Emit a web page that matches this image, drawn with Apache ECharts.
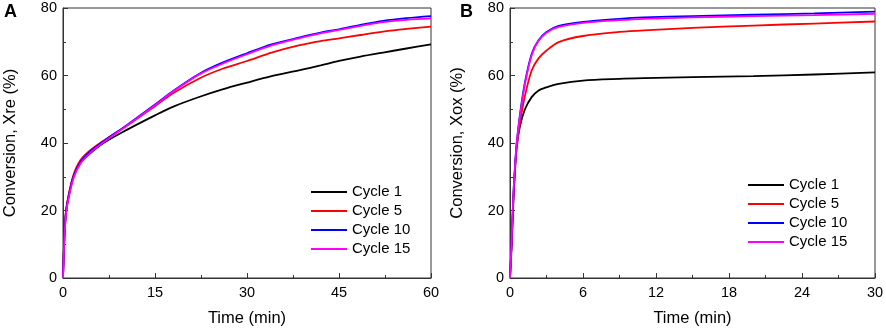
<!DOCTYPE html>
<html>
<head>
<meta charset="utf-8">
<script src="https://cdn.jsdelivr.net/npm/echarts@6/dist/echarts.min.js"></script>
<style>
html,body{margin:0;padding:0;background:#fff;}
#chart{width:886px;height:330px;}
</style>
</head>
<body>
<div id="chart"></div>
<script>
// Panel A: reduction conversion Xre (%) vs time (min)
var timeA = [0, 0.15, 0.3, 0.5, 0.9, 1.7, 2.8, 4.4, 6.6, 10.4, 15, 18, 22.3, 26, 30, 34, 38.6, 42, 45, 48.5, 52.2, 56, 60];
var a1  = [0, 9, 15, 20, 24, 30, 34, 36.9, 40, 43.9, 48.2, 50.8, 53.7, 55.9, 57.9, 59.8, 61.6, 63.0, 64.3, 65.6, 66.8, 68.0, 69.2];
var a5  = [0, 9, 15, 20, 24.5, 30.5, 34.8, 37.8, 40.7, 45.1, 50.9, 54.8, 59.2, 62.0, 64.3, 66.8, 69.0, 70.2, 71.0, 72.0, 73.0, 73.8, 74.5];
var a10 = [0, 8.5, 14.5, 19.5, 24, 30, 34.2, 37.4, 40.5, 45.3, 51.4, 55.5, 60.6, 63.8, 66.6, 69.2, 71.3, 72.7, 73.7, 75.0, 76.2, 77.0, 77.6];
var a15 = [0, 8, 14, 19, 23.5, 29.5, 33.8, 37.0, 40.2, 45.1, 51.2, 55.3, 60.4, 63.5, 66.3, 68.9, 71.1, 72.5, 73.5, 74.7, 75.8, 76.5, 76.9];

// Panel B: oxidation conversion Xox (%) vs time (min)
var timeB = [0, 0.14, 0.27, 0.41, 0.55, 0.82, 1.23, 1.78, 2.33, 3, 4, 6, 9, 11, 15, 20, 25, 30];
var b1  = [0, 10, 22, 32, 39, 45, 50, 53.6, 55.5, 56.5, 57.5, 58.5, 59.0, 59.2, 59.5, 59.8, 60.3, 60.9];
var b5  = [0, 11, 23, 32, 38.5, 46, 54, 61.5, 65, 67.4, 69.9, 71.7, 72.9, 73.4, 74.1, 74.8, 75.4, 76.0];
var b10 = [0, 11.5, 24, 33, 40, 48.5, 58, 66.4, 70.4, 72.9, 74.7, 75.9, 76.8, 77.2, 77.6, 78.0, 78.4, 78.9];
var b15 = [0, 11.5, 24, 33, 40, 48, 57.5, 66, 70.2, 72.7, 74.4, 75.6, 76.4, 76.8, 77.2, 77.6, 77.9, 78.3];

var names = ['Cycle 1', 'Cycle 5', 'Cycle 10', 'Cycle 15'];
var colors = ['#000000', '#ff0000', '#0000ff', '#ff00ff'];
var ticksAX = [0, 15, 30, 45, 60];
var ticksBX = [0, 6, 12, 18, 24, 30];
var ticksY = [0, 20, 40, 60, 80];

function pairs(t, v) { return t.map(function (x, i) { return [x, v[i]]; }); }

var FONT = 'Liberation Sans, Arial, sans-serif';
var axisCol = '#333';

function xAxisDef(gi, ticks) {
  return {
    type: 'value', gridIndex: gi,
    min: ticks[0], max: ticks[ticks.length - 1], interval: ticks[1] - ticks[0],
    name: 'Time (min)', nameLocation: 'middle', nameGap: 32,
    nameTextStyle: { fontFamily: FONT, fontSize: 16.5, color: '#000' },
    axisLine: { show: true, lineStyle: { color: axisCol, width: 1 } },
    axisTick: { show: true, inside: true, length: 5, lineStyle: { color: axisCol } },
    minorTick: { show: true, splitNumber: 2, length: 3, lineStyle: { color: axisCol } },
    splitLine: { show: false },
    axisLabel: { fontFamily: FONT, fontSize: 14.5, color: '#000', margin: 7 }
  };
}
function yAxisDef(gi, name) {
  return {
    type: 'value', gridIndex: gi,
    min: ticksY[0], max: ticksY[ticksY.length - 1], interval: ticksY[1] - ticksY[0],
    name: name, nameLocation: 'middle', nameGap: 44,
    nameTextStyle: { fontFamily: FONT, fontSize: 16.5, color: '#000' },
    axisLine: { show: true, lineStyle: { color: axisCol, width: 1 } },
    axisTick: { show: true, inside: true, length: 5, lineStyle: { color: axisCol } },
    minorTick: { show: true, splitNumber: 2, length: 3, lineStyle: { color: axisCol } },
    splitLine: { show: false },
    axisLabel: { fontFamily: FONT, fontSize: 14.5, color: '#000', margin: 6 }
  };
}

var dataA = [a1, a5, a10, a15];
var dataB = [b1, b5, b10, b15];
var series = [];
names.forEach(function (n, i) {
  series.push({
    name: n, type: 'line', xAxisIndex: 0, yAxisIndex: 0,
    data: pairs(timeA, dataA[i]), symbol: 'none', smooth: 0.3,
    lineStyle: { color: colors[i], width: 1.8 }, itemStyle: { color: colors[i] }
  });
});
names.forEach(function (n, i) {
  series.push({
    name: n, type: 'line', xAxisIndex: 1, yAxisIndex: 1,
    data: pairs(timeB, dataB[i]), symbol: 'none', smooth: 0.3,
    lineStyle: { color: colors[i], width: 1.8 }, itemStyle: { color: colors[i] }
  });
});

function legendDef(left, top) {
  return {
    left: left, top: top, orient: 'vertical', data: names,
    icon: 'rect', itemWidth: 36, itemHeight: 2, itemGap: 3,
    textStyle: { fontFamily: FONT, fontSize: 15, color: '#000', lineHeight: 16 },
    selectedMode: false
  };
}

var chart = echarts.init(document.getElementById('chart'), null, { renderer: 'canvas' });
chart.setOption({
  backgroundColor: '#fff',
  animation: false,
  grid: [
    { left: 63, top: 8, width: 368, height: 270, show: true, borderColor: axisCol, borderWidth: 1, containLabel: false, outerBoundsMode: 'none' },
    { left: 510, top: 8, width: 365, height: 270, show: true, borderColor: axisCol, borderWidth: 1, containLabel: false, outerBoundsMode: 'none' }
  ],
  xAxis: [xAxisDef(0, ticksAX), xAxisDef(1, ticksBX)],
  yAxis: [yAxisDef(0, 'Conversion, Xre (%)'), yAxisDef(1, 'Conversion, Xox (%)')],
  legend: [legendDef(306, 179), legendDef(743, 172)],
  graphic: [
    { type: 'text', left: 4, top: 3, style: { text: 'A', font: 'bold 18px ' + FONT, fill: '#000' } },
    { type: 'text', left: 460, top: 3, style: { text: 'B', font: 'bold 18px ' + FONT, fill: '#000' } }
  ],
  series: series
});
</script>
</body>
</html>
